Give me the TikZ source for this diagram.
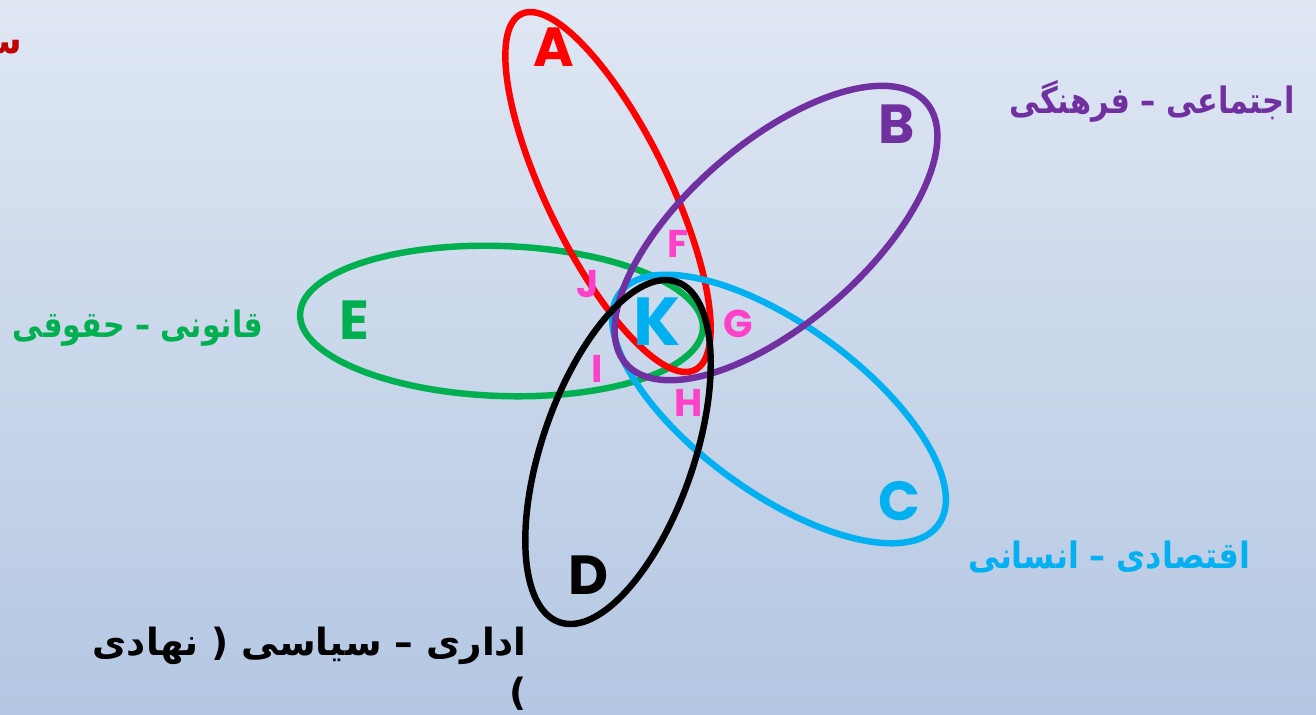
\documentclass[tikz,border=0pt]{standalone}
\usepackage{graphicx}
\usepackage{fontspec}
\setmainfont{DejaVu Sans}
\newfontfamily\letterfont{Poppins}
\newfontfamily\arabicfont[Script=Arabic]{DejaVu Sans}
\TeXXeTstate=1
\definecolor{cred}{HTML}{FF0000}
\definecolor{cpurple}{HTML}{7030A0}
\definecolor{ccyan}{HTML}{00B0F0}
\definecolor{cgreen}{HTML}{00B050}
\definecolor{cpink}{HTML}{FF40C8}
\definecolor{bgtop}{HTML}{DFE7F3}
\definecolor{bgbot}{HTML}{B4C7E2}
\definecolor{darkred}{HTML}{C00000}
\newcommand\fitw[2]{\resizebox{#1}{\height}{#2}}
\begin{document}
\begin{tikzpicture}[x=0.03cm,y=-0.03cm,
  ring/.style={line width=5.5pt},
  bigletter/.style={inner sep=0pt,font=\letterfont\bfseries\fontsize{47}{47}\selectfont},
  midletter/.style={inner sep=0pt,font=\letterfont\bfseries\fontsize{58}{58}\selectfont},
  smallletter/.style={inner sep=0pt,text=cpink,font=\letterfont\bfseries\fontsize{33}{33}\selectfont},
  label/.style={inner sep=0pt,font=\arabicfont\bfseries\fontsize{31}{36}\selectfont},
  biglabel/.style={inner sep=0pt,font=\arabicfont\bfseries\fontsize{32}{38}\selectfont}]
\useasboundingbox (0,0) rectangle (1316,714);
\shade[top color=bgtop,bottom color=bgbot] (0,0) rectangle (1316,714);
% ellipses
\draw[ring,cgreen,shift={(501.5,321)},rotate=-2] (0,0) ellipse [x radius=201.5,y radius=75];
\draw[ring,cred,shift={(608,192)},rotate=-64] (0,0) ellipse [x radius=198,y radius=61];
\draw[ring,ccyan,shift={(779,409)},rotate=-36] (0,0) ellipse [x radius=197,y radius=84];
\draw[ring,cpurple,shift={(776,233)},rotate=41] (0,0) ellipse [x radius=199,y radius=90];
\draw[ring,black,shift={(618,452)},rotate=71] (0,0) ellipse [x radius=180,y radius=76];
% big letters
\node[bigletter,text=cred] (A) at (554,47) {A};
\node[bigletter,text=cpurple] (B) at (897,124) {B};
\node[bigletter,text=ccyan] (C) at (899,501) {C};
\node[bigletter,text=black] (D) at (589,575) {D};
\node[bigletter,text=cgreen] (E) at (354,320) {E};
\node[midletter,text=ccyan] (K) at (657,322) {K};
% small letters
\node[smallletter] (F) at (678,244) {F};
\node[smallletter] (J) at (588,284) {J};
\node[smallletter] (G) at (738,324) {G};
\node[smallletter] (I) at (597,369) {I};
\node[smallletter] (H) at (689,403) {H};
% labels
\node[label,text=cpurple,anchor=base] (lb) at (1152,113) {\fitw{8.55cm}{\beginR اجتماعی – فرهنگی\endR}};
\node[label,text=cgreen,anchor=base] (le) at (138,337) {\fitw{7.5cm}{\beginR قانونی – حقوقی\endR}};
\node[label,text=ccyan,anchor=base] (lc) at (1109,568) {\fitw{8.46cm}{\beginR اقتصادی – انسانی\endR}};
\node[biglabel,text=black,anchor=base east] (ld1) at (527,655) {\fitw{13.02cm}{\beginR اداری – سیاسی ( نهادی\endR}};
\node[inner sep=0pt,text=black,anchor=base east,font=\bfseries\fontsize{32}{38}\selectfont] (ld2) at (527,705) {(};
\node[label,text=darkred,anchor=base east] (la) at (22,53) {\beginR سـ\endR};
\end{tikzpicture}
\end{document}
